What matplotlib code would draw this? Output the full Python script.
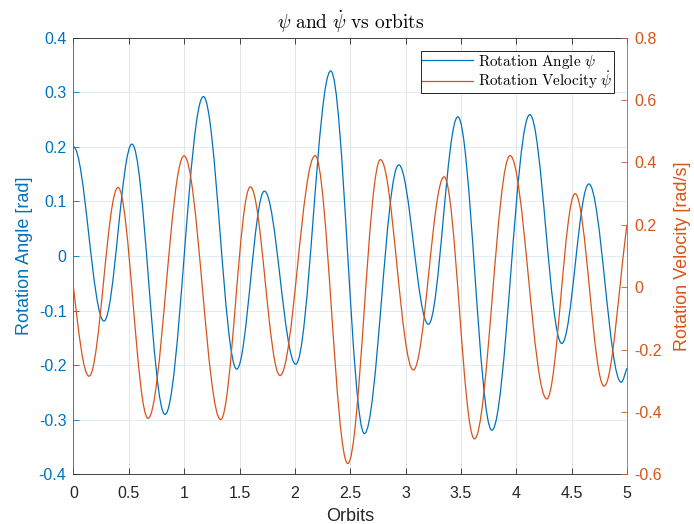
"""Rotation angle / rate vs orbits — MATLAB yyaxis look-alike. Writes out.png."""
import matplotlib
matplotlib.use("Agg")
import matplotlib.pyplot as plt
from matplotlib.path import Path
from matplotlib.patches import PathPatch
from matplotlib.lines import Line2D
from matplotlib.ticker import FuncFormatter, MultipleLocator

# ---- data: turning points (orbits, value) ------------------------------
# first / last entries are the ends of the plotted range
psi_t = [0.000, 0.276, 0.529, 0.827, 1.174, 1.475, 1.725, 2.008, 2.324, 2.628,
         2.938, 3.206, 3.472, 3.779, 4.122, 4.411, 4.655, 4.947, 5.000]
psi_v = [0.200, -0.119, 0.205, -0.290, 0.292, -0.207, 0.119, -0.198, 0.339, -0.325,
         0.167, -0.125, 0.255, -0.319, 0.259, -0.160, 0.132, -0.231, -0.205]

rate_t = [0.000, 0.141, 0.403, 0.674, 0.999, 1.330, 1.598, 1.866, 2.183, 2.478,
          2.773, 3.070, 3.348, 3.622, 3.944, 4.275, 4.531, 4.793, 5.000]
rate_v = [0.000, -0.285, 0.320, -0.420, 0.421, -0.424, 0.322, -0.283, 0.422, -0.565,
          0.409, -0.265, 0.354, -0.486, 0.422, -0.358, 0.300, -0.317, 0.200]

# ---- style ---------------------------------------------------------------
BLUE   = "#0072BD"
ORANGE = "#D95319"
AXC    = "#262626"
XGRID  = "#dfdfdf"
YGRID  = "#d9eaf5"

plt.rcParams.update({
    "font.family": ["Liberation Sans", "DejaVu Sans"],
    "mathtext.fontset": "cm",
    "axes.unicode_minus": False,
    "figure.facecolor": "white",
})


def wave(t, v, flat_start, flat_end, k0=1.5, k1=1.0):
    """Smooth path through turning points (horizontal tangents at extrema)."""
    verts = [(t[0], v[0])]
    codes = [Path.MOVETO]
    last = len(t) - 2
    for i in range(len(t) - 1):
        t0, y0, t1, y1 = t[i], v[i], t[i + 1], v[i + 1]
        dt = t1 - t0
        if i == 0 and not flat_start:
            c1 = (t0 + dt / 3, y0 + k0 * (y1 - y0) / 3)
        else:
            c1 = (t0 + 0.363 * dt, y0)
        if i == last and not flat_end:
            c2 = (t1 - dt / 3, y1 - k1 * (y1 - y0) / 3)
        else:
            c2 = (t1 - 0.363 * dt, y1)
        verts += [c1, c2, (t1, y1)]
        codes += [Path.CURVE4] * 3
    return Path(verts, codes)


fmt = FuncFormatter(lambda x, p: f"{round(x, 6) + 0:g}")

fig = plt.figure(figsize=(6.94, 5.24), dpi=100)
ax = fig.add_axes([0.1058, 0.0945, 0.7977, 0.8337])
ax2 = ax.twinx()

ax.add_patch(PathPatch(wave(psi_t, psi_v, True, False), fc="none", ec=BLUE, lw=0.9))
ax2.add_patch(PathPatch(wave(rate_t, rate_v, False, False), fc="none", ec=ORANGE, lw=0.9))

ax.set_xlim(0, 5)
ax.set_ylim(-0.4, 0.4)
ax2.set_ylim(-0.6, 0.8)

ax.xaxis.set_major_locator(MultipleLocator(0.5))
ax.yaxis.set_major_locator(MultipleLocator(0.1))
ax2.yaxis.set_major_locator(MultipleLocator(0.2))
for a in (ax.xaxis, ax.yaxis, ax2.yaxis):
    a.set_major_formatter(fmt)

# grid: grey verticals, bluish horizontals (left-axis tint)
ax.set_axisbelow(True)
ax.grid(True, axis="x", color=XGRID, lw=0.6)
ax.grid(True, axis="y", color=YGRID, lw=0.6)

# spines
for s in ("top", "bottom"):
    ax.spines[s].set_color(AXC)
    ax.spines[s].set_linewidth(0.6)
    ax2.spines[s].set_visible(False)
ax.spines["left"].set_color(BLUE)
ax.spines["left"].set_linewidth(0.6)
ax.spines["right"].set_visible(False)
ax2.spines["left"].set_visible(False)
ax2.spines["right"].set_color(ORANGE)
ax2.spines["right"].set_linewidth(0.6)

ax.tick_params(axis="x", direction="in", top=True, length=4, width=0.6,
               color=AXC, labelcolor=AXC, labelsize=11.5, pad=8)
ax.tick_params(axis="y", direction="in", right=False, length=4, width=0.6,
               color=BLUE, labelcolor=BLUE, labelsize=11.5, pad=5)
ax2.tick_params(axis="y", direction="in", length=4, width=0.6,
                color=ORANGE, labelcolor=ORANGE, labelsize=11.5, pad=5)

ax.set_xlabel("Orbits", fontsize=13, color=AXC, labelpad=5)
ax.set_ylabel("Rotation Angle [rad]", fontsize=13, color=BLUE, labelpad=4)
ax2.set_ylabel("Rotation Velocity [rad/s]", fontsize=13, color=ORANGE, labelpad=9)
ax.set_title(r"$\psi\ \mathrm{and}\ \dot{\psi}\ \mathrm{vs\ orbits}$",
             fontsize=14, color="black", pad=6)

handles = [Line2D([], [], color=BLUE, lw=0.9), Line2D([], [], color=ORANGE, lw=0.9)]
labels = [r"$\mathrm{Rotation\ Angle}\ \psi$", r"$\mathrm{Rotation\ Velocity}\ \dot{\psi}$"]
leg = ax2.legend(handles, labels, loc="upper right", bbox_to_anchor=(0.9765, 0.9693),
                 borderaxespad=0, fontsize=11, handlelength=3.3, handletextpad=0.35,
                 borderpad=0.1, labelspacing=-0.05, fancybox=False, framealpha=1)
leg.get_frame().set_edgecolor("black")
leg.get_frame().set_linewidth(0.6)

fig.savefig("out.png", dpi=100)
